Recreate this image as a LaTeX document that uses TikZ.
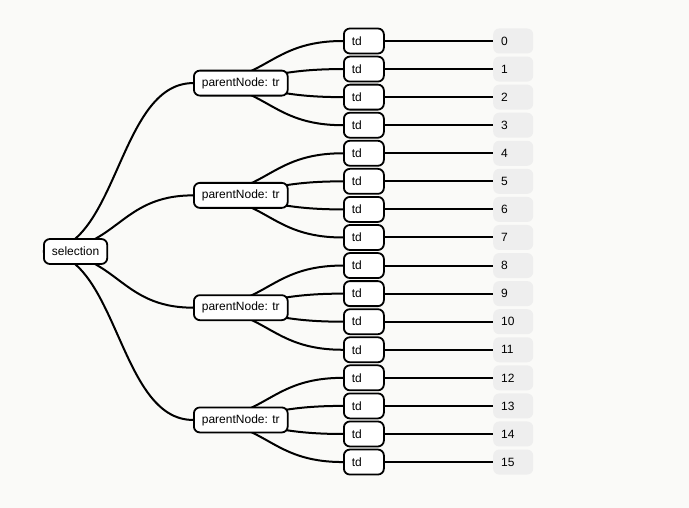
\documentclass[tikz,border=0pt]{standalone}
\usepackage{fontspec}
\setmainfont{Liberation Sans}
\usetikzlibrary{backgrounds}
\definecolor{pagebg}{HTML}{FAFAF8}

\begin{document}
\begin{tikzpicture}
[x=1pt,y=-1pt,
  link/.style={line width=2pt},%
  boxDecorate/.style={draw,line width=1.8pt,rounded corners=6pt,fill=white,
    minimum height=25pt,inner xsep=8pt,anchor=west},%
  tdDecorate/.style={boxDecorate,text width=24pt,align=left},%
  valDecorate/.style={fill=gray!13,rounded corners=6pt,minimum height=25pt,
    inner xsep=8pt,text width=24pt,align=left,anchor=west}]
\fontsize{12}{14}\selectfont
%% page
\begin{pgfonlayer}{background}
\fill[pagebg] (0,0) rectangle (689,508);
\end{pgfonlayer}
%% nodes
\node (sel) at (43,251.5) [boxDecorate] {selection};
\foreach \j in {0,...,3}
{
  \node (pn\j) at (193,{41+28.07*(4*\j+1.5)}) [boxDecorate] {parentNode: tr};
}
\foreach \i in {0,...,15}
{
  \node (td\i) at (343,{41+28.07*\i}) [tdDecorate] {td};
  \node (val\i) at (493,{41+28.07*\i}) [valDecorate] {\i};
}
%% links
\begin{pgfonlayer}{background}
\foreach \j in {0,...,3}
{
  \draw[link] (sel.west) .. controls +(75,0) and +(-75,0) .. (pn\j.west);
  \foreach \k in {0,...,3}
  {
    \pgfmathtruncatemacro\n{4*\j+\k}
    \draw[link] (pn\j.west) .. controls +(75,0) and +(-75,0) .. (td\n.west);
  }
}
\foreach \i in {0,...,15}
{
  \draw[link] (td\i.west) -- (val\i.west);
}
\end{pgfonlayer}
\end{tikzpicture}
\end{document}
